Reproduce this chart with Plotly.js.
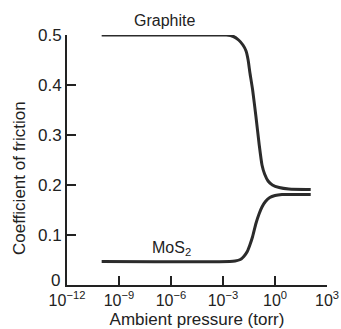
<!DOCTYPE html>
<html><head><meta charset="utf-8">
<script src="https://cdn.plot.ly/plotly-3.0.1.min.js"></script>
<style>html,body{margin:0;padding:0;background:#fff}#c{width:341px;height:329px}</style>
</head><body><div id="c"></div>
<script>
// log10(pressure, torr)
const graphiteLogP = [-10, -3.5, -2.8, -2.4, -2.1, -1.85, -1.67, -1.55, -1.45, -1.29, -1.10, -0.91, -0.75, -0.6, -0.4, -0.15, 0.24, 0.8, 2.06];
const graphiteMu   = [0.5, 0.5, 0.5, 0.497, 0.49, 0.48, 0.468, 0.45, 0.425, 0.39, 0.337, 0.28, 0.24, 0.222, 0.208, 0.2, 0.195, 0.192, 0.191];
const mos2LogP = [-10, -2.6, -2.3, -2.0, -1.8, -1.6, -1.45, -1.29, -1.10, -0.91, -0.75, -0.55, -0.3, 0, 0.4, 2.06];
const mos2Mu   = [0.047, 0.047, 0.048, 0.051, 0.057, 0.067, 0.08, 0.097, 0.123, 0.143, 0.156, 0.167, 0.175, 0.179, 0.181, 0.181];
const xTickExp = [-12, -9, -6, -3, 0, 3];
const yTickVals = [0, 0.1, 0.2, 0.3, 0.4, 0.5];
const yTickText = ['', '0.1', '0.2', '0.3', '0.4', '0.5'];

const toP = a => a.map(e => Math.pow(10, e));
const lineStyle = {color: '#2b2b2b', width: 3, shape: 'spline', smoothing: 0.5};
const FONT = 'Liberation Sans, Arial, Helvetica, sans-serif';
const TXT = '#222';

const data = [
  {x: toP(graphiteLogP), y: graphiteMu, mode: 'lines', name: 'Graphite', line: lineStyle, cliponaxis: false},
  {x: toP(mos2LogP), y: mos2Mu, mode: 'lines', name: 'MoS2', line: lineStyle, cliponaxis: false}
];

const L = 67, R = 14, T = 35, B = 44, W = 341, H = 329;
const pw = W - L - R, ph = H - T - B;
const px = x => (x - L) / pw;
const py = y => (H - B - y) / ph;
const ann = (x, y, text, extra) => Object.assign({
  x: px(x), y: py(y), xref: 'paper', yref: 'paper', text: text, showarrow: false,
  xanchor: 'center', yanchor: 'middle', font: {size: 16, family: FONT, color: TXT}
}, extra || {});

const layout = {
  width: W, height: H,
  margin: {l: L, r: R, t: T, b: B},
  paper_bgcolor: '#fff', plot_bgcolor: '#fff',
  showlegend: false,
  font: {family: FONT, color: TXT, size: 16},
  xaxis: {
    type: 'log', range: [-12, 3],
    tickmode: 'array',
    tickvals: toP(xTickExp),
    ticktext: xTickExp.map(e => '10<sup>' + (e < 0 ? '\u2212' + (-e) : e) + '</sup>'),
    ticks: 'inside', ticklen: 9, tickwidth: 2, tickcolor: TXT,
    showline: true, linewidth: 2, linecolor: TXT,
    showgrid: false, zeroline: false,
    tickfont: {size: 16, family: FONT, color: TXT},
    title: {text: 'Ambient pressure (torr)', font: {size: 17, family: FONT, color: TXT}, standoff: 5}
  },
  yaxis: {
    range: [0, 0.5],
    tickmode: 'array', tickvals: yTickVals, ticktext: yTickText,
    ticks: 'inside', ticklen: 9, tickwidth: 2, tickcolor: TXT,
    showline: true, linewidth: 2, linecolor: TXT,
    showgrid: false, zeroline: false,
    ticklabelstandoff: 0,
    tickfont: {size: 17, family: FONT, color: TXT}
  },
  annotations: [
    ann(164, 21, 'Graphite'),
    ann(171, 248, 'MoS<sub>2</sub>'),
    ann(55, 280, '0', {font: {size: 17, family: FONT, color: TXT}}),
    ann(19, 178, 'Coefficient of friction', {textangle: -90, font: {size: 17, family: FONT, color: TXT}})
  ]
};

Plotly.newPlot('c', data, layout, {staticPlot: true, displayModeBar: false});
</script>
</body></html>
